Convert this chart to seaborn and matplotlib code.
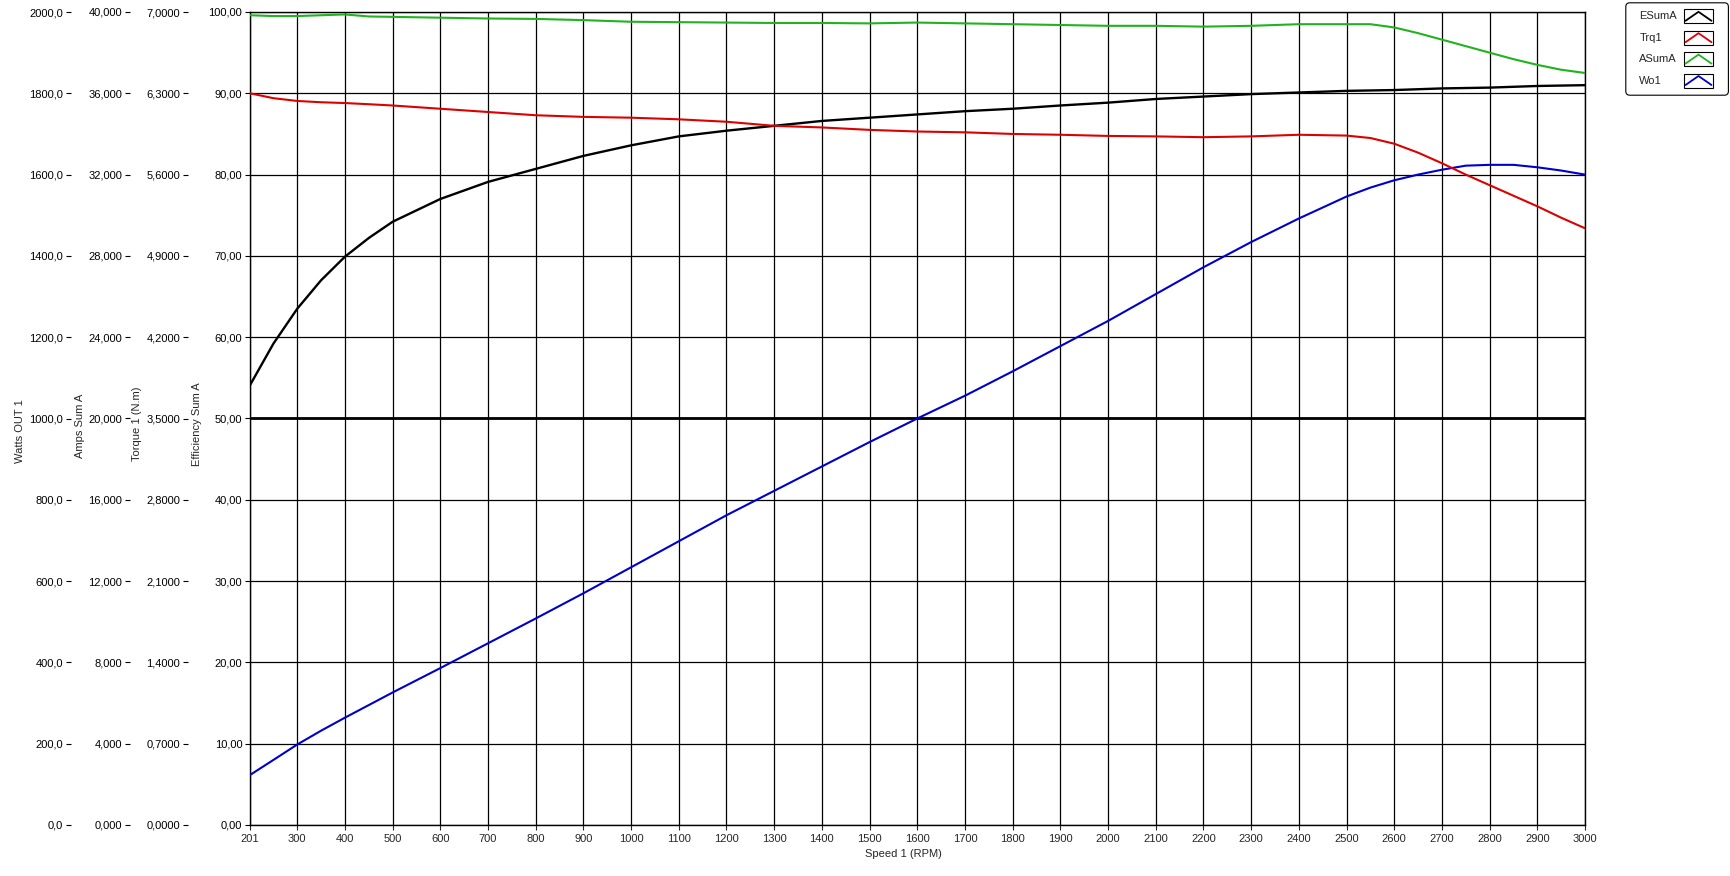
import matplotlib
matplotlib.use('Agg')
import matplotlib.pyplot as plt
import seaborn as sns
from matplotlib.ticker import FuncFormatter
from matplotlib.patches import Rectangle, FancyBboxPatch

sns.set_style('white')
plt.rcParams['font.family'] = ['Liberation Sans', 'DejaVu Sans']
plt.rcParams['font.size'] = 8

# Datos (velocidad en RPM)
rpm = [201, 250, 300, 350, 400, 450, 500, 600, 700, 800, 900, 1000, 1100, 1200,
       1300, 1400, 1500, 1600, 1700, 1800, 1900, 2000, 2100, 2200, 2300, 2400,
       2500, 2550, 2600, 2650, 2700, 2750, 2800, 2850, 2900, 2950, 3000]

# ESumA - eficiencia (%)
eff = [54.1, 59.2, 63.5, 67.0, 69.9, 72.2, 74.2, 77.0, 79.1, 80.7, 82.3, 83.6, 84.7, 85.4,
       86.0, 86.6, 87.0, 87.4, 87.8, 88.1, 88.5, 88.85, 89.3, 89.6, 89.9, 90.1,
       90.3, 90.35, 90.4, 90.5, 90.6, 90.65, 90.7, 90.8, 90.9, 90.95, 91.0]

# Trq1 - par (N.m)
torque = [6.300, 6.258, 6.234, 6.223, 6.216, 6.206, 6.195, 6.167, 6.139, 6.111, 6.097, 6.090,
          6.076, 6.055, 6.020, 6.006, 5.985, 5.971, 5.964, 5.950, 5.943, 5.933, 5.929,
          5.922, 5.929, 5.943, 5.936, 5.915, 5.866, 5.789, 5.698, 5.600, 5.509, 5.418,
          5.327, 5.229, 5.138]

# ASumA - corriente (A)
amps = [39.84, 39.80, 39.80, 39.84, 39.88, 39.78, 39.76, 39.72, 39.68, 39.66, 39.60, 39.52,
        39.50, 39.48, 39.46, 39.46, 39.44, 39.48, 39.44, 39.40, 39.36, 39.32, 39.32,
        39.28, 39.32, 39.40, 39.40, 39.40, 39.24, 38.96, 38.64, 38.32, 38.00, 37.68,
        37.40, 37.16, 37.00]

# Wo1 - potencia de salida (W)
watts = [123, 160, 198, 232, 264, 295, 326, 386, 447, 508, 570, 634, 698, 762,
         822, 882, 942, 1000, 1056, 1116, 1178, 1240, 1306, 1372, 1434, 1492,
         1546, 1568, 1586, 1600, 1612, 1622, 1624, 1624, 1618, 1610, 1600]

speed_ticks = [201] + list(range(300, 3001, 100))
eff_ticks = list(range(0, 101, 10))
watt_ticks = list(range(0, 2001, 200))
amp_ticks = list(range(0, 41, 4))
torque_ticks = [i * 0.7 for i in range(11)]

legend_labels = ['ESumA', 'Trq1', 'ASumA', 'Wo1']
legend_colors = ['black', '#dd0000', '#1fb31f', '#0000cc']

fig = plt.figure(figsize=(17.3, 8.76), dpi=100)
ax = fig.add_axes([250 / 1730, 51 / 876, 1335 / 1730, 813 / 876])
ax_w = ax.twinx()
ax_a = ax.twinx()
ax_t = ax.twinx()

# ejes y adicionales a la izquierda
for a, off in [(ax_w, 179), (ax_a, 120), (ax_t, 62)]:
    a.yaxis.set_ticks_position('left')
    a.spines['left'].set_position(('outward', off * 0.72))
    a.spines['left'].set_visible(True)
    a.spines['left'].set_linewidth(0)
    for s in ['right', 'top', 'bottom']:
        a.spines[s].set_visible(False)

sns.lineplot(x=rpm, y=eff, ax=ax, color=legend_colors[0], lw=1.7)
sns.lineplot(x=rpm, y=torque, ax=ax_t, color=legend_colors[1], lw=1.5)
sns.lineplot(x=rpm, y=amps, ax=ax_a, color=legend_colors[2], lw=1.5)
sns.lineplot(x=rpm, y=watts, ax=ax_w, color=legend_colors[3], lw=1.5)

ax.set_xlim(201, 3000)
ax.set_ylim(0, 100)
ax_w.set_ylim(0, 2000)
ax_a.set_ylim(0, 40)
ax_t.set_ylim(0, 7)

ax.set_xticks(speed_ticks)
ax.set_yticks(eff_ticks)
ax_w.set_yticks(watt_ticks)
ax_a.set_yticks(amp_ticks)
ax_t.set_yticks(torque_ticks)

ax.yaxis.set_major_formatter(FuncFormatter(lambda v, p: f"{v:.2f}".replace('.', ',')))
ax_w.yaxis.set_major_formatter(FuncFormatter(lambda v, p: f"{v:.1f}".replace('.', ',')))
ax_a.yaxis.set_major_formatter(FuncFormatter(lambda v, p: f"{v:.3f}".replace('.', ',')))
ax_t.yaxis.set_major_formatter(FuncFormatter(lambda v, p: f"{v:.4f}".replace('.', ',')))

for a in [ax, ax_w, ax_a, ax_t]:
    a.tick_params(axis='y', direction='out', length=3.6, width=0.8, pad=2, labelsize=8, colors='black')
    a.set_xlabel('')
    a.set_ylabel('')
ax.tick_params(axis='x', direction='out', length=3.6, width=0.8, pad=3, labelsize=8)
ax.tick_params(right=False, top=False, left=True, bottom=True)

ax.grid(True, color='black', lw=0.9)
ax.axhline(50, color='black', lw=2.0, zorder=1)
for s in ax.spines.values():
    s.set_color('black')
    s.set_linewidth(1.0)

# etiquetas de los ejes
fig.text(20 / 1730, 1 - 431 / 876, 'Watts OUT 1', rotation=90, ha='center', va='center')
fig.text(80 / 1730, 1 - 426 / 876, 'Amps Sum A', rotation=90, ha='center', va='center')
fig.text(137 / 1730, 1 - 424 / 876, 'Torque 1 (N.m)', rotation=90, ha='center', va='center')
fig.text(197 / 1730, 1 - 424 / 876, 'Efficiency Sum A', rotation=90, ha='center', va='center')
fig.text(903 / 1730, 1 - 854 / 876, 'Speed 1 (RPM)', ha='center', va='center')

# leyenda dibujada a mano (texto a la izquierda, icono en recuadro a la derecha)
lax = fig.add_axes([1625 / 1730, 1 - 96 / 876, 105 / 1730, 94 / 876])
lax.set_xlim(0, 105)
lax.set_ylim(94, 0)
lax.axis('off')
lax.add_patch(FancyBboxPatch((0.8, 0.8), 102.6, 92.4, boxstyle='round,pad=0,rounding_size=4',
                             fc='white', ec='black', lw=0.8))
for i, (lab, col) in enumerate(zip(legend_labels, legend_colors)):
    yc = 14.3 + i * 21.4
    lax.text(14.3, yc, lab, ha='left', va='center', fontsize=8)
    lax.add_patch(Rectangle((59.3, yc - 7), 28.4, 14, fill=False, ec='black', lw=0.8))
    lax.plot([60.5, 73.5, 86.5], [yc + 4.5, yc - 4.5, yc + 4.5], color=col, lw=1.3)

fig.savefig('out.png', dpi=100)
